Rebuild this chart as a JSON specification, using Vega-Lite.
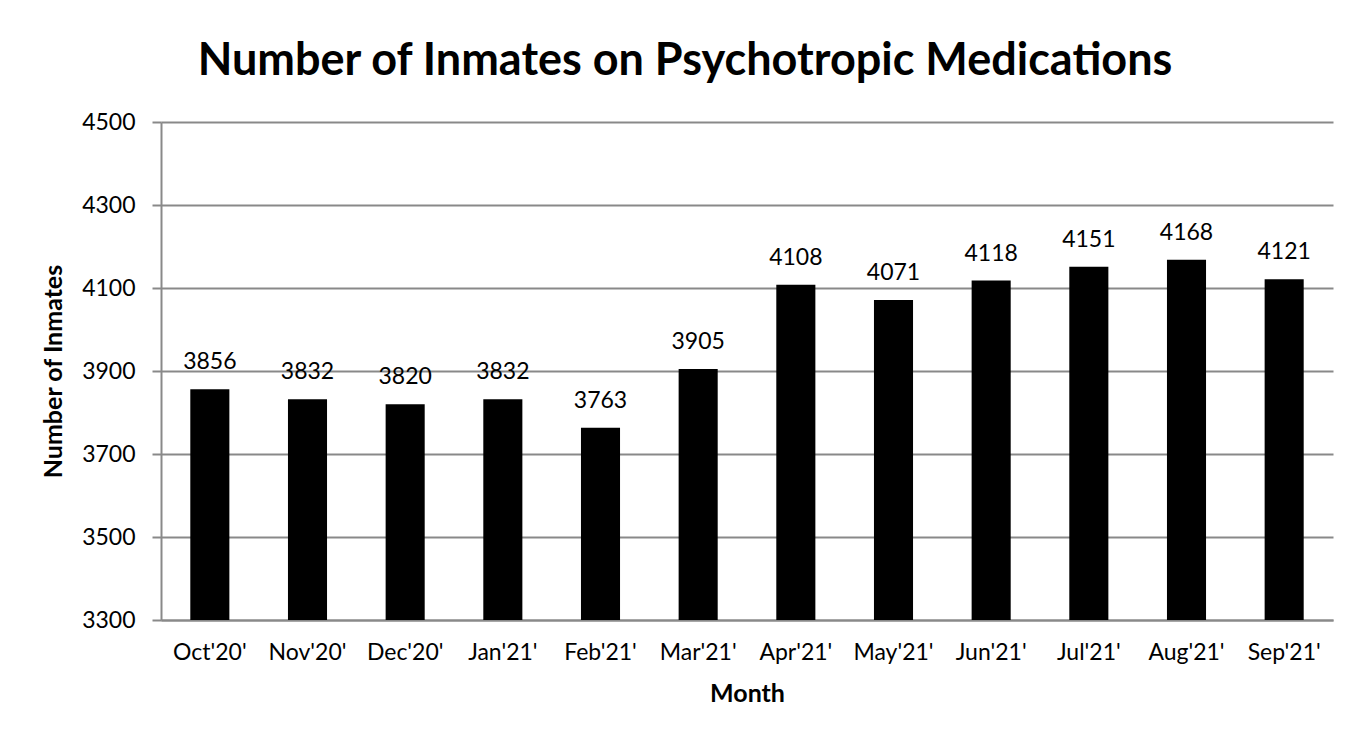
{
  "$schema": "https://vega.github.io/schema/vega-lite/v6.json",
  "width": 1172,
  "height": 498,
  "autosize": {"type": "none"},
  "padding": {"left": 161, "top": 122, "right": 33, "bottom": 119},
  "background": "white",
  "title": {
    "text": "Number of Inmates on Psychotropic Medications",
    "font": "Lato",
    "fontSize": 45,
    "fontWeight": "bold",
    "color": "black",
    "anchor": "middle",
    "dx": -62,
    "offset": 27
  },
  "data": {
    "values": [
      {"month": "Oct'20'", "count": 3856},
      {"month": "Nov'20'", "count": 3832},
      {"month": "Dec'20'", "count": 3820},
      {"month": "Jan'21'", "count": 3832},
      {"month": "Feb'21'", "count": 3763},
      {"month": "Mar'21'", "count": 3905},
      {"month": "Apr'21'", "count": 4108},
      {"month": "May'21'", "count": 4071},
      {"month": "Jun'21'", "count": 4118},
      {"month": "Jul'21'", "count": 4151},
      {"month": "Aug'21'", "count": 4168},
      {"month": "Sep'21'", "count": 4121}
    ]
  },
  "encoding": {
    "x": {
      "field": "month",
      "type": "nominal",
      "sort": null,
      "scale": {"paddingInner": 0.6, "paddingOuter": 0.3},
      "axis": {
        "title": "Month",
        "titleFont": "Lato",
        "titleFontSize": 25,
        "titleFontWeight": "bold",
        "titleColor": "black",
        "titlePadding": 17,
        "labelFont": "Lato",
        "labelFontSize": 23,
        "labelColor": "black",
        "labelAngle": 0,
        "labelPadding": 21,
        "ticks": false,
        "tickSize": 0,
        "domainColor": "#898989",
        "domainWidth": 2,
        "grid": false
      }
    },
    "y": {
      "field": "count",
      "type": "quantitative",
      "scale": {"domain": [3300, 4500], "zero": false, "nice": false},
      "axis": {
        "title": "Number of Inmates",
        "titleFont": "Lato",
        "titleFontSize": 25,
        "titleFontWeight": "bold",
        "titleColor": "black",
        "titlePadding": 15,
        "labelFont": "Lato",
        "labelFontSize": 23,
        "labelColor": "black",
        "labelPadding": 17,
        "format": "d",
        "values": [3300, 3500, 3700, 3900, 4100, 4300, 4500],
        "tickSize": 9,
        "tickColor": "#898989",
        "tickWidth": 2,
        "domainColor": "#898989",
        "domainWidth": 2,
        "grid": true,
        "gridColor": "#898989",
        "gridWidth": 2
      }
    }
  },
  "layer": [
    {"mark": {"type": "bar", "color": "black"}, "encoding": {"y2": {"datum": 3300}}},
    {
      "mark": {"type": "text", "baseline": "alphabetic", "dy": -20, "font": "Lato", "fontSize": 23, "color": "black"},
      "encoding": {"text": {"field": "count", "type": "quantitative", "format": "d"}}
    }
  ],
  "config": {"view": {"stroke": null}}
}
